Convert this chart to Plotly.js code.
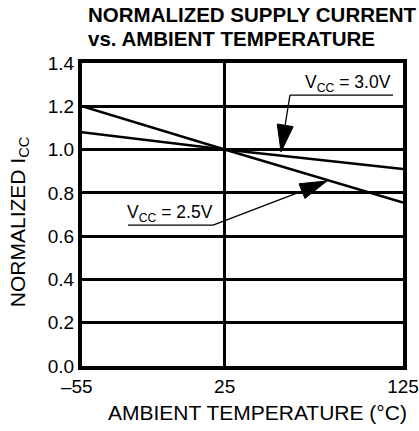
<!DOCTYPE html>
<html>
<head>
<meta charset="utf-8">
<script src="https://cdn.plot.ly/plotly-3.0.1.min.js"></script>
<style>html,body{margin:0;padding:0;background:#fff;}#chart{width:419px;height:431px;}</style>
</head>
<body>
<div id="chart"></div>
<script>
// ---- data ----
const temps = [-55, 25, 125];
const iccVcc30 = [1.08, 1.0, 0.91];
const iccVcc25 = [1.2, 1.0, 0.755];
const xTickVals = [-55, 25, 125];
const xTickText = ['\u201355\u00a0\u00a0', '25', '125'];
const yTickVals = [0, 0.2, 0.4, 0.6, 0.8, 1.0, 1.2, 1.4];
const yTickText = ['0.0', '0.2', '0.4', '0.6', '0.8', '1.0', '1.2', '1.4'];
const seriesNames = ['V<sub>CC</sub> = 3.0V', 'V<sub>CC</sub> = 2.5V'];

const FONT = 'Liberation Sans, Arial, Helvetica, sans-serif';
const lineStyle = {color: '#000', width: 2.5};

const traces = [
  {x: temps, y: iccVcc30, type: 'scatter', mode: 'lines', line: lineStyle, name: seriesNames[0], hoverinfo: 'skip'},
  {x: temps, y: iccVcc25, type: 'scatter', mode: 'lines', line: lineStyle, name: seriesNames[1], hoverinfo: 'skip'}
];

const thin = {color: '#000', width: 1.3};
const shapes = [
  // VCC = 3.0V leader
  {type: 'line', xref: 'x', yref: 'y', x0: 61.6, y0: 1.252, x1: 119.4, y1: 1.252, line: thin},
  {type: 'line', xref: 'x', yref: 'y', x0: 61.6, y0: 1.252, x1: 58.9, y1: 1.112, line: thin},
  {type: 'path', xref: 'x', yref: 'y', path: 'M 63.4 1.106 L 54.5 1.118 L 56.6 0.989 Z', fillcolor: '#000', line: {color: '#000', width: 1}},
  // VCC = 2.5V leader
  {type: 'line', xref: 'x', yref: 'y', x0: -29.2, y0: 0.651, x1: 18.5, y1: 0.651, line: thin},
  {type: 'line', xref: 'x', yref: 'y', x0: 18.5, y0: 0.651, x1: 68.4, y1: 0.808, line: thin},
  {type: 'path', xref: 'x', yref: 'y', path: 'M 70.0 0.774 L 66.7 0.842 L 82.4 0.855 Z', fillcolor: '#000', line: {color: '#000', width: 1}}
];

const annotations = [
  {xref: 'paper', yref: 'paper', x: 0.0125, y: 1.160, xanchor: 'left', yanchor: 'middle', showarrow: false,
   text: '<b>NORMALIZED SUPPLY CURRENT</b>', font: {family: FONT, size: 20.5, color: '#000'}},
  {xref: 'paper', yref: 'paper', x: 0.0125, y: 1.081, xanchor: 'left', yanchor: 'middle', showarrow: false,
   text: '<b>vs. AMBIENT TEMPERATURE</b>', font: {family: FONT, size: 20.5, color: '#000'}},
  {xref: 'paper', yref: 'paper', x: 0.548, y: -0.155, xanchor: 'center', yanchor: 'middle', showarrow: false,
   text: 'AMBIENT TEMPERATURE (\u00B0C)', font: {family: FONT, size: 21, color: '#000'}},
  {xref: 'paper', yref: 'paper', x: -0.196, y: 0.475, xanchor: 'center', yanchor: 'middle', showarrow: false, textangle: -90,
   text: 'NORMALIZED I<sub>CC</sub>', font: {family: FONT, size: 21, color: '#000'}},
  {xref: 'x', yref: 'y', x: 119.4, y: 1.305, xanchor: 'right', yanchor: 'middle', showarrow: false,
   text: seriesNames[0], font: {family: FONT, size: 17.5, color: '#000'}},
  {xref: 'x', yref: 'y', x: -31.1, y: 0.705, xanchor: 'left', yanchor: 'middle', showarrow: false,
   text: seriesNames[1], font: {family: FONT, size: 17.5, color: '#000'}}
];

const layout = {
  width: 419, height: 431,
  margin: {l: 82, r: 16, t: 63, b: 65, pad: 0},
  paper_bgcolor: '#fff', plot_bgcolor: '#fff',
  showlegend: false,
  font: {family: FONT, size: 19, color: '#000'},
  xaxis: {
    range: [-55, 125], tickmode: 'array', tickvals: xTickVals, ticktext: xTickText,
    showgrid: true, gridcolor: '#000', gridwidth: 3,
    showline: true, mirror: true, linecolor: '#000', linewidth: 4,
    zeroline: false, ticks: '', fixedrange: true,
    tickfont: {family: FONT, size: 19, color: '#000'}
  },
  yaxis: {
    range: [0, 1.4], tickmode: 'array', tickvals: yTickVals, ticktext: yTickText,
    showgrid: true, gridcolor: '#000', gridwidth: 3,
    showline: true, mirror: true, linecolor: '#000', linewidth: 4,
    zeroline: false, ticks: '', fixedrange: true,
    tickfont: {family: FONT, size: 19, color: '#000'}
  },
  shapes: shapes,
  annotations: annotations
};

Plotly.newPlot('chart', traces, layout, {staticPlot: true, displayModeBar: false});
</script>
</body>
</html>
